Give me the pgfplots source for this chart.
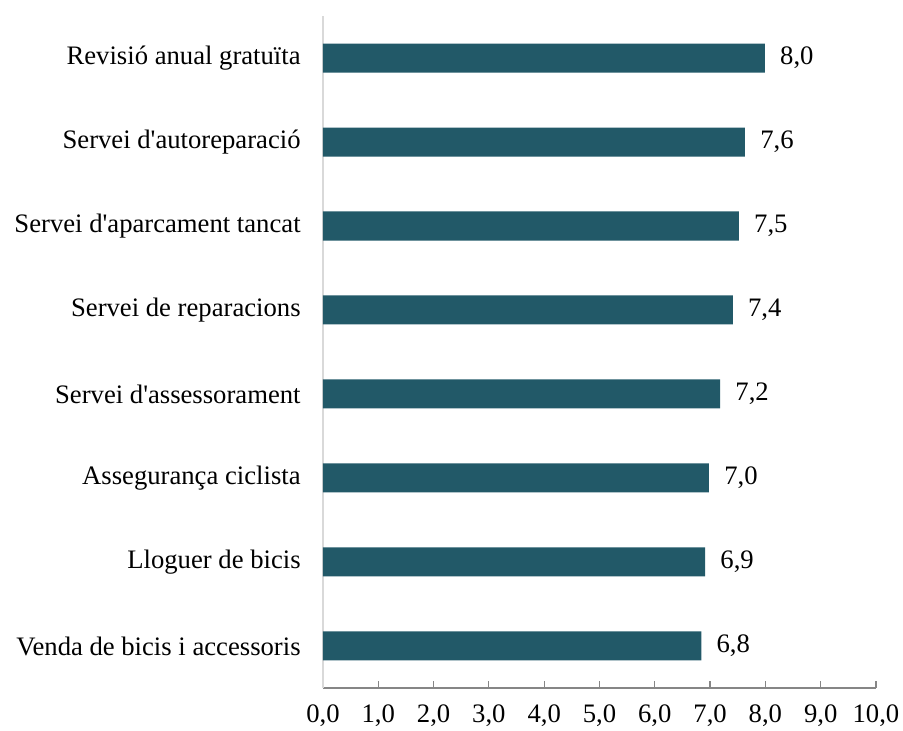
\documentclass[border=0pt]{standalone}
\usepackage{pgfplots}
\pgfplotsset{compat=1.18}
\usepackage{fontspec}
\setmainfont{Liberation Serif}
\definecolor{barc}{RGB}{34,89,104}
\definecolor{ygrid}{RGB}{217,217,217}
\definecolor{xaxis}{RGB}{134,134,134}
\newcommand{\ap}{\textquotesingle}
\begin{document}
\begin{tikzpicture}[x=1pt,y=1pt]
\begin{axis}[
  at={(0,0)}, anchor=south west,
  scale only axis,
  width=414.75pt, height=504pt,
  xmin=0, xmax=10,
  ymin=-0.5, ymax=7.5,
  axis x line=bottom, axis y line=left,
  axis line style={-},
  x axis line style={draw=xaxis, line width=0.9pt},
  y axis line style={draw=ygrid, line width=0.9pt},
  xtick={0,1,2,3,4,5,6,7,8,9,10},
  xtick align=inside,
  major tick length=5.25pt,
  xtick style={draw=xaxis, line width=0.9pt},
  ytick={0,1,2,3,4,5,6,7},
  ytick style={draw=none},
  yticklabels={Venda de bicis i accessoris,Lloguer de bicis,Assegurança ciclista,Servei d\ap assessorament,Servei de reparacions,Servei d\ap aparcament tancat,Servei d\ap autoreparació,Revisió anual gratuïta},
  /pgf/number format/assume math mode=true,
  xticklabel={\pgfmathprintnumber[fixed,fixed zerofill,precision=1,use comma]{\tick}},
  tick label style={font=\fontsize{20pt}{24pt}\selectfont},
  xticklabel style={yshift=-11.5pt, inner sep=1pt},
  yticklabel style={xshift=-8pt},
  xbar, bar width=21.75pt,
  nodes near coords={\pgfmathprintnumber[fixed,fixed zerofill,precision=1,use comma]{\pgfplotspointmeta}},
  point meta=x,
  every node near coord/.append style={font=\fontsize{20pt}{24pt}\selectfont, anchor=west, xshift=8pt, text=black},
  clip=false,
]
\addplot[fill=barc, draw=none] coordinates {
  (6.84,0) (6.91,1) (6.98,2) (7.18,3) (7.41,4) (7.52,5) (7.63,6) (7.99,7)
};
\end{axis}
\pgfresetboundingbox
\path (-242.25pt,-32.25pt) rectangle ++(677.25pt,548.25pt);
\end{tikzpicture}
\end{document}
